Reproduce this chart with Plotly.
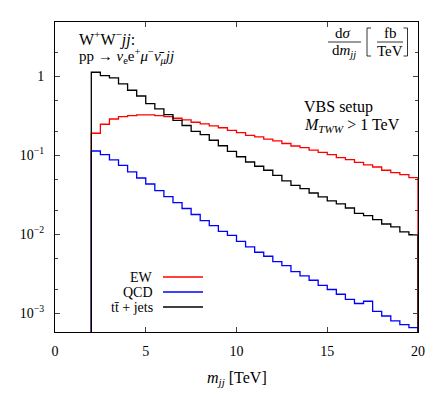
import plotly.graph_objects as go

# ---------------- data ----------------
bin_edges = [2.0 + 0.5 * i for i in range(37)]  # 2 ... 20 TeV, 0.5 TeV bins

ew = [0.190, 0.247, 0.288, 0.309, 0.318, 0.324, 0.324, 0.318, 0.309, 0.294,
      0.280, 0.262, 0.249, 0.236, 0.223, 0.207, 0.193, 0.179, 0.171, 0.160,
      0.152, 0.141, 0.131, 0.125, 0.116, 0.109, 0.102, 0.0935, 0.0882, 0.0815,
      0.0754, 0.0711, 0.0646, 0.0604, 0.0570, 0.0522]

qcd = [0.1133, 0.1021, 0.0877, 0.0747, 0.0615, 0.0516, 0.0433, 0.0357, 0.0300, 0.0252,
       0.0212, 0.0178, 0.0149, 0.0129, 0.0109, 0.00971, 0.00815, 0.00691, 0.00592, 0.00527,
       0.00451, 0.00402, 0.00337, 0.00297, 0.00262, 0.00226, 0.00200, 0.00174, 0.00150, 0.00133,
       0.00142, 0.00106, 0.000924, 0.000800, 0.000719, 0.000659]

ttjets = [1.124, 1.021, 0.952, 0.799, 0.665, 0.563, 0.451, 0.386, 0.327, 0.277,
          0.238, 0.201, 0.183, 0.155, 0.132, 0.112, 0.0958, 0.0822, 0.0726, 0.0646,
          0.0558, 0.0473, 0.0417, 0.0379, 0.0333, 0.0297, 0.0265, 0.0242, 0.0215, 0.0184,
          0.0172, 0.0153, 0.0135, 0.0124, 0.0107, 0.00986]

series_names = ["EW", "QCD", "tt\u0304 + jets"]
series_values = [ew, qcd, ttjets]
series_colors = ["#ff0000", "#0000ff", "#000000"]

x_tickvals = [0, 5, 10, 15, 20]
y_tickvals = [1, 0.1, 0.01, 0.001]
y_ticktext = ["1", "10<sup>\u22121</sup>", "10<sup>\u22122</sup>", "10<sup>\u22123</sup>"]
y_minor = [2e-3, 5e-3, 2e-2, 5e-2, 0.2, 0.5, 2]

FLOOR = 1e-5  # below axis range, used for the vertical drop at histogram ends

# ---------------- figure ----------------
FONT = "Liberation Serif"
OFF = 8  # default page body margin
W, H = 428, 386
L, R, T, B = 47, 18, 14, 62
plot_w = W - L - R
plot_h = H - T - B


def px_x(px):
    return (px - OFF - L) / plot_w


def px_y(py):
    return (OFF + H - B - py) / plot_h


fig = go.Figure()
for name, vals, col in zip(series_names, series_values, series_colors):
    xs = [bin_edges[0]] + bin_edges[:-1] + [bin_edges[-1], bin_edges[-1]]
    ys = [FLOOR] + vals + [vals[-1], FLOOR]
    fig.add_trace(go.Scatter(x=xs, y=ys, mode="lines", name=name,
                             line=dict(color=col, width=1.3, shape="hv"),
                             showlegend=False, hoverinfo="skip"))

fig.update_layout(
    width=W, height=H,
    margin=dict(l=L, r=R, t=T, b=B),
    paper_bgcolor="white", plot_bgcolor="white",
    font=dict(family=FONT, size=14, color="black"),
    xaxis=dict(range=[0, 20], tickvals=x_tickvals, ticks="inside", ticklen=5,
               showline=True, linecolor="black", linewidth=1, mirror="ticks",
               showgrid=False, zeroline=False, tickfont=dict(size=14),
               ticklabelstandoff=6),
    yaxis=dict(type="log", range=[-3.237, 0.687], tickvals=y_tickvals, ticktext=y_ticktext,
               ticks="inside", ticklen=5, showline=True, linecolor="black", linewidth=1,
               mirror="ticks", showgrid=False, zeroline=False, tickfont=dict(size=14),
               ticklabelstandoff=7,
               minor=dict(tickvals=y_minor, ticks="inside", ticklen=3, showgrid=False)),
)

ann = []


def text(px, py, s, size=14, xanchor="left"):
    ann.append(dict(x=px_x(px), y=px_y(py), xref="paper", yref="paper", text=s,
                    showarrow=False, xanchor=xanchor, yanchor="middle",
                    font=dict(family=FONT, size=size, color="black")))


shapes = []


def seg(path_pts, width=0.8, color="black"):
    d = "M " + " L ".join(f"{px_x(a)},{px_y(b)}" for a, b in path_pts)
    shapes.append(dict(type="path", xref="paper", yref="paper", path=d,
                       line=dict(color=color, width=width)))


# process label, top left
text(77, 39, "W<sup>+</sup>W<sup>\u2212</sup><i>jj</i>:", 16)
text(77, 56, "pp \u2192 <i>\u03bd</i><sub>e</sub>e<sup>+</sup><i>\u03bc</i><sup>\u2212</sup>"
             "<i>\u03bd\u0304</i><sub><i>\u03bc</i></sub><i>jj</i>", 15)

# d sigma / d m_jj [fb/TeV], top right
text(343, 33, "d<i>\u03c3</i>", 15, "center")
text(344, 51, "d<i>m</i><sub><i>jj</i></sub>", 15, "center")
text(390, 33, "fb", 15, "center")
text(390, 51, "TeV", 15, "center")
seg([(328, 42), (361, 42)])
seg([(377, 42), (403, 42)])
seg([(371, 28), (367, 28), (367, 56), (371, 56)])
seg([(403.5, 28), (407.5, 28), (407.5, 56), (403.5, 56)])

# setup text
text(302, 107, "VBS setup", 16)
text(302, 126, "<i>M</i><sub><i>TWW</i></sub> &gt; 1 TeV", 16)

# axis title
text(236.5, 378, "<i>m</i><sub><i>jj</i></sub> [TeV]", 16, "center")

# legend (text right-aligned, line sample to the right)
for i, (name, col) in enumerate(zip(series_names, series_colors)):
    yy = 277 + 15 * i
    text(155, yy, name, 14, "right")
    seg([(163, yy), (203, yy)], width=1.3, color=col)

fig.update_layout(annotations=ann, shapes=shapes)
fig.write_html("out.html")
